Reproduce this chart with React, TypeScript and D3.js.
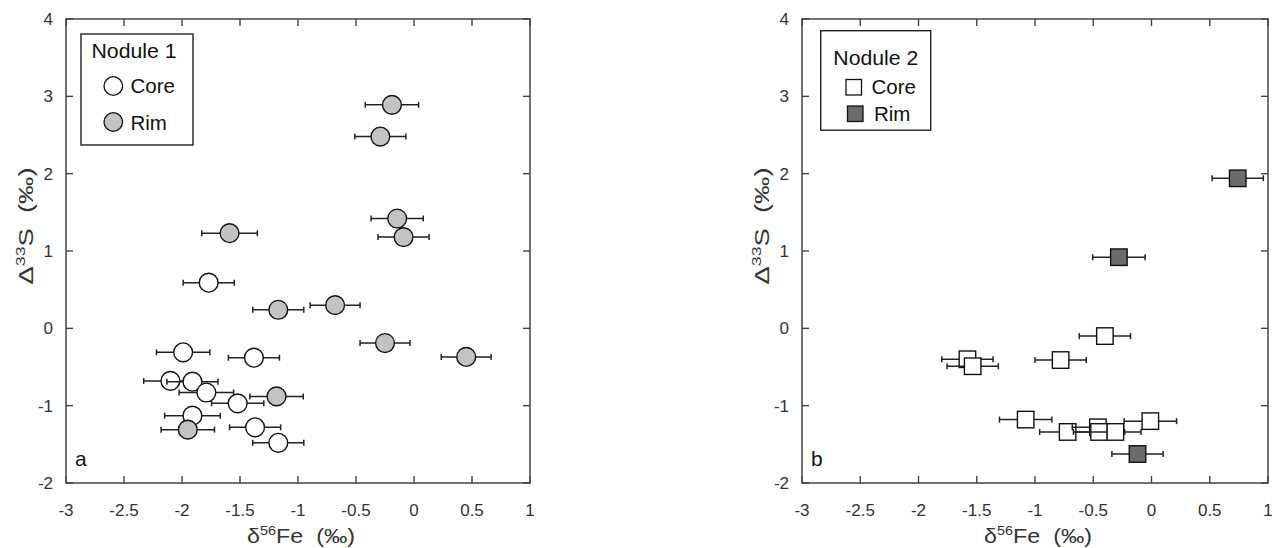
import React from "react";
import * as d3 from "d3";

// ---- data ----
const xTicks = [-3, -2.5, -2, -1.5, -1, -0.5, 0, 0.5, 1];
const yTicks = [-2, -1, 0, 1, 2, 3, 4];

// Panel a: Nodule 1
const coreAX = [-1.77, -1.99, -1.38, -2.10, -1.91, -1.79, -1.52, -1.91, -1.37, -1.17];
const coreAY = [0.59, -0.31, -0.38, -0.68, -0.69, -0.83, -0.97, -1.13, -1.28, -1.48];
const coreAErr = [0.22, 0.23, 0.22, 0.23, 0.22, 0.235, 0.225, 0.24, 0.22, 0.22];

const rimAX = [-0.19, -0.29, -0.145, -0.09, -1.59, -1.17, -0.68, -0.25, 0.45, -1.185, -1.95];
const rimAY = [2.89, 2.48, 1.42, 1.18, 1.23, 0.24, 0.30, -0.19, -0.37, -0.88, -1.31];
const rimAErr = [0.23, 0.22, 0.225, 0.22, 0.24, 0.22, 0.215, 0.215, 0.215, 0.23, 0.23];

// Panel b: Nodule 2
const coreBX = [-0.40, -0.78, -1.58, -1.535, -1.08, -0.72, -0.46, -0.45, -0.31, -0.01];
const coreBY = [-0.10, -0.41, -0.40, -0.49, -1.18, -1.34, -1.28, -1.34, -1.34, -1.20];
const coreBErr = [0.22, 0.22, 0.22, 0.22, 0.225, 0.24, 0.22, 0.22, 0.22, 0.225];

const rimBX = [0.74, -0.28, -0.12];
const rimBY = [1.94, 0.92, -1.625];
const rimBErr = [0.22, 0.225, 0.22];

const FONT = "'Liberation Sans', Arial, Helvetica, sans-serif";
const INK = "#222";

type Pt = { x: number; y: number; e: number; kind: "core" | "rim" };

function zip(xs: number[], ys: number[], es: number[], kind: "core" | "rim"): Pt[] {
  return xs.map((x, i) => ({ x, y: ys[i], e: es[i], kind }));
}

function Panel(props: {
  left: number; right: number; top: number; bottom: number;
  points: Pt[]; shape: "circle" | "square"; rimFill: string;
  legendTitle: string; label: string;
}) {
  const { left, right, top, bottom, points, shape, rimFill, legendTitle, label } = props;
  const x = d3.scaleLinear().domain([-3, 1]).range([left, right]);
  const y = d3.scaleLinear().domain([-2, 4]).range([bottom, top]);
  const tl = 7;
  const r = 9.4;
  const s = 16.5;
  const cap = 3;
  const fillOf = (k: string) => (k === "core" ? "#ffffff" : rimFill);

  const marker = (cx: number, cy: number, k: string, key: string) =>
    shape === "circle" ? (
      <circle key={key} cx={cx} cy={cy} r={r} fill={fillOf(k)} stroke="#111" strokeWidth={1.4} />
    ) : (
      <rect key={key} x={cx - s / 2} y={cy - s / 2} width={s} height={s} fill={fillOf(k)} stroke="#111" strokeWidth={1.4} />
    );

  const midX = (left + right) / 2;
  return (
    <g fontFamily={FONT}>
      {/* frame */}
      <rect x={left} y={top} width={right - left} height={bottom - top} fill="none" stroke="#444" strokeWidth={1.5} />
      {/* ticks */}
      {xTicks.map((t) => (
        <g key={"xt" + t}>
          <line x1={x(t)} x2={x(t)} y1={bottom} y2={bottom - tl} stroke="#444" strokeWidth={1.4} />
          <line x1={x(t)} x2={x(t)} y1={top} y2={top + tl} stroke="#444" strokeWidth={1.4} />
          <text x={x(t)} y={bottom + 33} textAnchor="middle" fontSize={17} fill="#333">{String(t)}</text>
        </g>
      ))}
      {yTicks.map((t) => (
        <g key={"yt" + t}>
          <line x1={left} x2={left + tl} y1={y(t)} y2={y(t)} stroke="#444" strokeWidth={1.4} />
          <line x1={right} x2={right - tl} y1={y(t)} y2={y(t)} stroke="#444" strokeWidth={1.4} />
          <text x={left - 13} y={y(t) + 6} textAnchor="end" fontSize={17} fill="#333">{String(t)}</text>
        </g>
      ))}
      {/* axis titles */}
      <text x={midX + 3} y={543} textAnchor="middle" fontSize={21} fill="#333"
        textLength={108} lengthAdjust="spacingAndGlyphs">
        δ<tspan fontSize={13} dy={-8}>56</tspan><tspan dy={8}>{"Fe\u00A0\u00A0(‰)"}</tspan>
      </text>
      <text transform={`translate(${left - 33},226) rotate(-90)`} textAnchor="middle" fontSize={20} fill="#333"
        textLength={117} lengthAdjust="spacingAndGlyphs">
        Δ<tspan fontSize={13} dy={-8}>33</tspan><tspan dy={8}>{"S\u00A0\u00A0(‰)"}</tspan>
      </text>
      {/* data */}
      {points.map((p, i) => {
        const cx = x(p.x), cy = y(p.y);
        const x0 = x(p.x - p.e), x1 = x(p.x + p.e);
        return (
          <g key={"p" + i}>
            <line x1={x0} x2={x1} y1={cy} y2={cy} stroke={INK} strokeWidth={1.5} />
            <line x1={x0} x2={x0} y1={cy - cap} y2={cy + cap} stroke={INK} strokeWidth={1.5} />
            <line x1={x1} x2={x1} y1={cy - cap} y2={cy + cap} stroke={INK} strokeWidth={1.5} />
            {marker(cx, cy, p.kind, "m" + i)}
          </g>
        );
      })}
      {/* legend */}
      {shape === "circle" ? (
        <>
          <rect x={81} y={34} width={112} height={111} fill="#fff" stroke="#222" strokeWidth={1.4} />
          <text x={91.5} y={57.5} fontSize={20.5} fill="#111" textLength={85} lengthAdjust="spacingAndGlyphs">{legendTitle}</text>
          <circle cx={113.3} cy={86} r={9.3} fill="#fff" stroke="#111" strokeWidth={1.3} />
          <text x={130.5} y={93} fontSize={20.5} fill="#111">Core</text>
          <circle cx={113.3} cy={122} r={9.3} fill={rimFill} stroke="#111" strokeWidth={1.3} />
          <text x={130.5} y={130} fontSize={20.5} fill="#111">Rim</text>
        </>
      ) : (
        <>
          <rect x={820.7} y={30.7} width={110} height={99.5} fill="#fff" stroke="#222" strokeWidth={1.4} />
          <text x={833.3} y={65} fontSize={20.5} fill="#111" textLength={85} lengthAdjust="spacingAndGlyphs">{legendTitle}</text>
          <rect x={846} y={79.5} width={15.5} height={15.5} fill="#fff" stroke="#111" strokeWidth={1.3} />
          <text x={871.5} y={94} fontSize={20.5} fill="#111">Core</text>
          <rect x={847.5} y={106} width={15.5} height={15.5} fill={rimFill} stroke="#111" strokeWidth={1.3} />
          <text x={874} y={120.5} fontSize={20.5} fill="#111">Rim</text>
        </>
      )}
      <text x={left + 9} y={bottom - 17} fontSize={21} fill="#111">{label}</text>
    </g>
  );
}

export default function App() {
  const ptsA = [...zip(coreAX, coreAY, coreAErr, "core"), ...zip(rimAX, rimAY, rimAErr, "rim")]
    .sort((a, b) => b.y - a.y);
  const ptsB = [...zip(coreBX, coreBY, coreBErr, "core"), ...zip(rimBX, rimBY, rimBErr, "rim")];
  return (
    <svg width={1272} height={548} style={{ position: "absolute", left: 0, top: 0, background: "#fff" }}>
      <rect width={1272} height={548} fill="#fff" />
      <Panel left={66} right={530} top={19} bottom={483} points={ptsA} shape="circle" rimFill="#c3c3c3"
        legendTitle="Nodule 1" label="a" />
      <Panel left={802} right={1268} top={19} bottom={483} points={ptsB} shape="square" rimFill="#6b6b6b"
        legendTitle="Nodule 2" label="b" />
    </svg>
  );
}
